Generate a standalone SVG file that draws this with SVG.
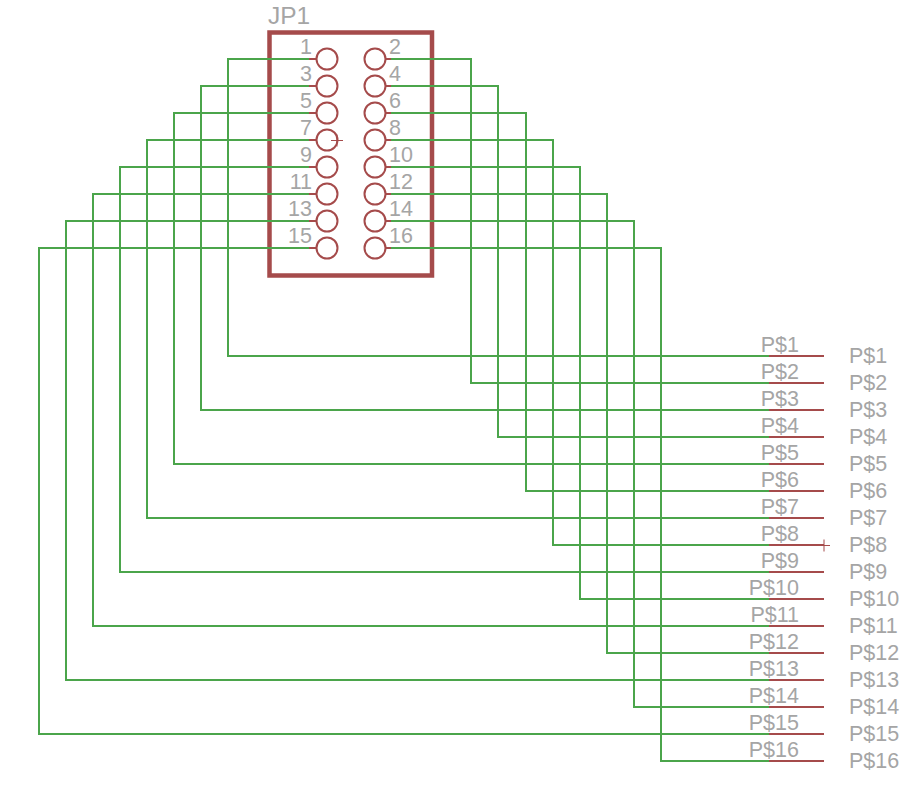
<svg xmlns="http://www.w3.org/2000/svg" width="923" height="786" viewBox="0 0 923 786">
<style>
text{font-family:"Liberation Sans",Arial,sans-serif;fill:#a5a5a5;font-size:21.5px}
.e{text-anchor:end}
.r{fill:none;stroke:#a54b4b;stroke-width:2}
.w{fill:none;stroke:#4ba54b;stroke-width:2}
.x{fill:none;stroke:#a54b4b;stroke-width:1}
</style>
<rect width="923" height="786" fill="#fff"/>
<g id="JP1">
<rect x="269.5" y="32.5" width="162.5" height="243" fill="none" stroke="#a54b4b" stroke-width="4.5"/>
<text x="268" y="24" style="font-size:24.5px">JP1</text>
<path class="x" d="M331 140.5H343M337 134.5V146.5"/>
</g>
<g id="pin1"><circle class="r" cx="327" cy="59" r="10.5"/><path class="r" d="M309 59H316"/><text class="e" x="312" y="54">1</text></g>
<g id="pin2"><circle class="r" cx="375" cy="59" r="10.5"/><path class="r" d="M386 59H391"/><text x="389" y="54">2</text></g>
<g id="pin3"><circle class="r" cx="327" cy="86" r="10.5"/><path class="r" d="M309 86H316"/><text class="e" x="312" y="81">3</text></g>
<g id="pin4"><circle class="r" cx="375" cy="86" r="10.5"/><path class="r" d="M386 86H391"/><text x="389" y="81">4</text></g>
<g id="pin5"><circle class="r" cx="327" cy="113" r="10.5"/><path class="r" d="M309 113H316"/><text class="e" x="312" y="108">5</text></g>
<g id="pin6"><circle class="r" cx="375" cy="113" r="10.5"/><path class="r" d="M386 113H391"/><text x="389" y="108">6</text></g>
<g id="pin7"><circle class="r" cx="327" cy="140" r="10.5"/><path class="r" d="M309 140H316"/><text class="e" x="312" y="135">7</text></g>
<g id="pin8"><circle class="r" cx="375" cy="140" r="10.5"/><path class="r" d="M386 140H391"/><text x="389" y="135">8</text></g>
<g id="pin9"><circle class="r" cx="327" cy="167" r="10.5"/><path class="r" d="M309 167H316"/><text class="e" x="312" y="162">9</text></g>
<g id="pin10"><circle class="r" cx="375" cy="167" r="10.5"/><path class="r" d="M386 167H391"/><text x="389" y="162">10</text></g>
<g id="pin11"><circle class="r" cx="327" cy="194" r="10.5"/><path class="r" d="M309 194H316"/><text class="e" x="312" y="189">11</text></g>
<g id="pin12"><circle class="r" cx="375" cy="194" r="10.5"/><path class="r" d="M386 194H391"/><text x="389" y="189">12</text></g>
<g id="pin13"><circle class="r" cx="327" cy="221" r="10.5"/><path class="r" d="M309 221H316"/><text class="e" x="312" y="216">13</text></g>
<g id="pin14"><circle class="r" cx="375" cy="221" r="10.5"/><path class="r" d="M386 221H391"/><text x="389" y="216">14</text></g>
<g id="pin15"><circle class="r" cx="327" cy="248" r="10.5"/><path class="r" d="M309 248H316"/><text class="e" x="312" y="243">15</text></g>
<g id="pin16"><circle class="r" cx="375" cy="248" r="10.5"/><path class="r" d="M386 248H391"/><text x="389" y="243">16</text></g>
<g id="P1"><path class="r" d="M769 356H824"/><text class="e" x="799" y="352">P$1</text><text x="849" y="363">P$1</text></g>
<g id="P2"><path class="r" d="M769 383H824"/><text class="e" x="799" y="379">P$2</text><text x="849" y="390">P$2</text></g>
<g id="P3"><path class="r" d="M769 410H824"/><text class="e" x="799" y="406">P$3</text><text x="849" y="417">P$3</text></g>
<g id="P4"><path class="r" d="M769 437H824"/><text class="e" x="799" y="433">P$4</text><text x="849" y="444">P$4</text></g>
<g id="P5"><path class="r" d="M769 464H824"/><text class="e" x="799" y="460">P$5</text><text x="849" y="471">P$5</text></g>
<g id="P6"><path class="r" d="M769 491H824"/><text class="e" x="799" y="487">P$6</text><text x="849" y="498">P$6</text></g>
<g id="P7"><path class="r" d="M769 518H824"/><text class="e" x="799" y="514">P$7</text><text x="849" y="525">P$7</text></g>
<g id="P8"><path class="r" d="M769 545H824"/><path class="x" d="M818 545.5H830M824 539.5V551.5"/><text class="e" x="799" y="541">P$8</text><text x="849" y="552">P$8</text></g>
<g id="P9"><path class="r" d="M769 572H824"/><text class="e" x="799" y="568">P$9</text><text x="849" y="579">P$9</text></g>
<g id="P10"><path class="r" d="M769 599H824"/><text class="e" x="799" y="595">P$10</text><text x="849" y="606">P$10</text></g>
<g id="P11"><path class="r" d="M769 626H824"/><text class="e" x="799" y="622">P$11</text><text x="849" y="633">P$11</text></g>
<g id="P12"><path class="r" d="M769 653H824"/><text class="e" x="799" y="649">P$12</text><text x="849" y="660">P$12</text></g>
<g id="P13"><path class="r" d="M769 680H824"/><text class="e" x="799" y="676">P$13</text><text x="849" y="687">P$13</text></g>
<g id="P14"><path class="r" d="M769 707H824"/><text class="e" x="799" y="703">P$14</text><text x="849" y="714">P$14</text></g>
<g id="P15"><path class="r" d="M769 734H824"/><text class="e" x="799" y="730">P$15</text><text x="849" y="741">P$15</text></g>
<g id="P16"><path class="r" d="M769 761H824"/><text class="e" x="799" y="757">P$16</text><text x="849" y="768">P$16</text></g>
<g id="connectors">
<path class="w" d="M309 59H228V356H769"/>
<path class="w" d="M391 59H471V383H769"/>
<path class="w" d="M309 86H201V410H769"/>
<path class="w" d="M391 86H498V437H769"/>
<path class="w" d="M309 113H174V464H769"/>
<path class="w" d="M391 113H526V491H769"/>
<path class="w" d="M309 140H147V518H769"/>
<path class="w" d="M391 140H553V545H769"/>
<path class="w" d="M309 167H120V572H769"/>
<path class="w" d="M391 167H580V599H769"/>
<path class="w" d="M309 194H93V626H769"/>
<path class="w" d="M391 194H607V653H769"/>
<path class="w" d="M309 221H66V680H769"/>
<path class="w" d="M391 221H634V707H769"/>
<path class="w" d="M309 248H39V734H769"/>
<path class="w" d="M391 248H661V761H769"/>
</g>
</svg>
